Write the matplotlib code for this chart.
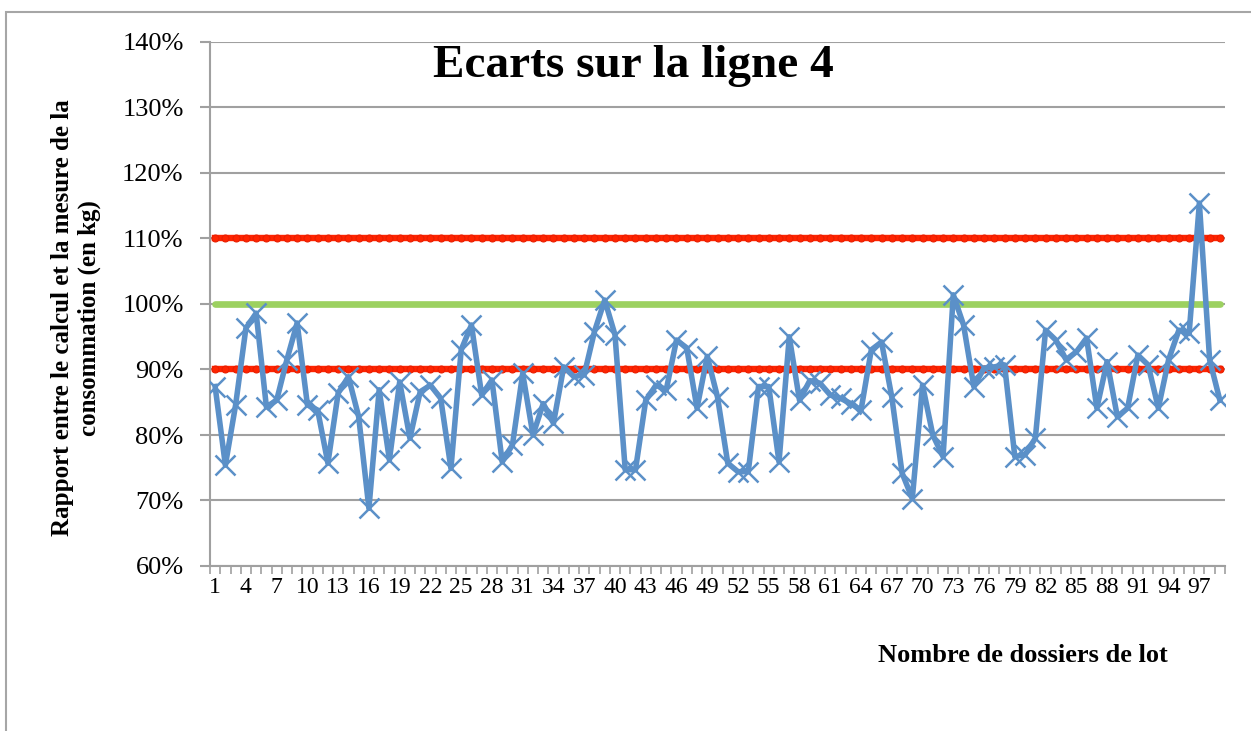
import numpy as np
import matplotlib
matplotlib.use("Agg")
from matplotlib import pyplot as plt
from matplotlib.patches import Rectangle
from matplotlib.ticker import FuncFormatter, MultipleLocator

# rapport calcul / mesure pour chaque dossier de lot (ligne 4)
ecarts = [
    87.4, 75.4, 84.6, 96.3, 98.6, 84.3, 85.3, 91.5, 97.1, 84.6,
    83.8, 75.7, 86.4, 88.9, 82.8, 68.8, 86.9, 76.2, 88.1, 79.5,
    86.6, 87.6, 85.6, 74.9, 93.0, 96.8, 86.1, 88.4, 75.9, 78.5,
    89.4, 80.0, 84.8, 81.8, 90.4, 88.9, 89.2, 95.8, 100.6, 95.3,
    74.7, 74.7, 85.3, 87.6, 86.9, 94.5, 93.3, 84.1, 92.0, 85.8,
    75.7, 74.4, 74.4, 87.4, 87.4, 75.9, 95.0, 85.3, 88.3, 87.9,
    86.1, 85.6, 84.8, 83.8, 93.0, 94.2, 85.8, 74.2, 70.3, 87.6,
    80.0, 76.7, 101.4, 96.8, 87.4, 90.2, 90.4, 90.7, 76.7, 77.0,
    79.5, 96.0, 94.5, 91.5, 92.7, 94.8, 84.1, 91.2, 82.8, 84.1,
    92.2, 90.7, 84.1, 91.5, 96.0, 95.5, 115.4, 91.5, 85.3,
]
dossiers = np.arange(1, len(ecarts) + 1)
limite_basse = 90
objectif = 100
limite_haute = 110

serif = ["Liberation Serif", "DejaVu Serif"]
plt.rcParams["font.family"] = serif

fig = plt.figure(figsize=(12.51, 7.31), dpi=100)
fig.patches.append(Rectangle((6 / 1251, -0.1), 1.2, 1 - 12 / 731 + 0.1,
                             transform=fig.transFigure, fill=False,
                             edgecolor="#A6A6A6", linewidth=1.5))
ax = fig.add_axes([210 / 1251, 165 / 731, 1015 / 1251, 524 / 731])

n = len(dossiers)
ax.plot(dossiers, [limite_haute] * n, color="#FF2400", lw=4.6,
        marker="o", ms=5, mec="#E81E00", mew=0.8, zorder=3)
ax.plot(dossiers, [objectif] * n, color="#9CD160", lw=4.8,
        solid_capstyle="round", zorder=3)
ax.plot(dossiers, [limite_basse] * n, color="#FF2400", lw=4.6,
        marker="o", ms=5, mec="#E81E00", mew=0.8, zorder=3)
ax.plot(dossiers, ecarts, color="#5B90C8", lw=4, marker="x", ms=14,
        mew=1.8, zorder=4)

ax.set_xlim(0.5, n + 0.5)
ax.set_ylim(60, 140)
ax.yaxis.set_major_locator(MultipleLocator(10))
ax.yaxis.set_major_formatter(FuncFormatter(lambda v, p: "{:d}%".format(int(round(v)))))
ax.set_xticks(dossiers[::3])
ax.set_xticks(np.arange(0.5, n + 1, 1), minor=True)
ax.tick_params(axis="x", which="major", length=0, pad=8, labelsize=17)
ax.tick_params(axis="x", which="minor", length=6, width=1.2, color="#A0A0A0",
               direction="out")
ax.tick_params(axis="y", which="major", length=7, width=1.5, color="#A0A0A0",
               pad=12, labelsize=19)
ax.grid(axis="y", color="#A0A0A0", lw=1.5)
ax.set_axisbelow(True)
for s in ["top", "right"]:
    ax.spines[s].set_visible(False)
for s in ["left", "bottom"]:
    ax.spines[s].set_color("#A0A0A0")
    ax.spines[s].set_linewidth(1.5)

fig.text(633 / 1251, 1 - 66 / 731, "Ecarts sur la ligne 4", ha="center",
         va="center", fontsize=34, fontweight="bold")
fig.text(76 / 1251, 1 - 318 / 731,
         "Rapport entre le calcul et la mesure de la\nconsommation (en kg)",
         ha="center", va="center", rotation=90, fontsize=18,
         fontweight="bold", linespacing=1.15)
fig.text(1168 / 1251, 1 - 655 / 731, "Nombre de dossiers de lot", ha="right",
         va="center", fontsize=19, fontweight="bold")

fig.savefig("out.png", dpi=100)
